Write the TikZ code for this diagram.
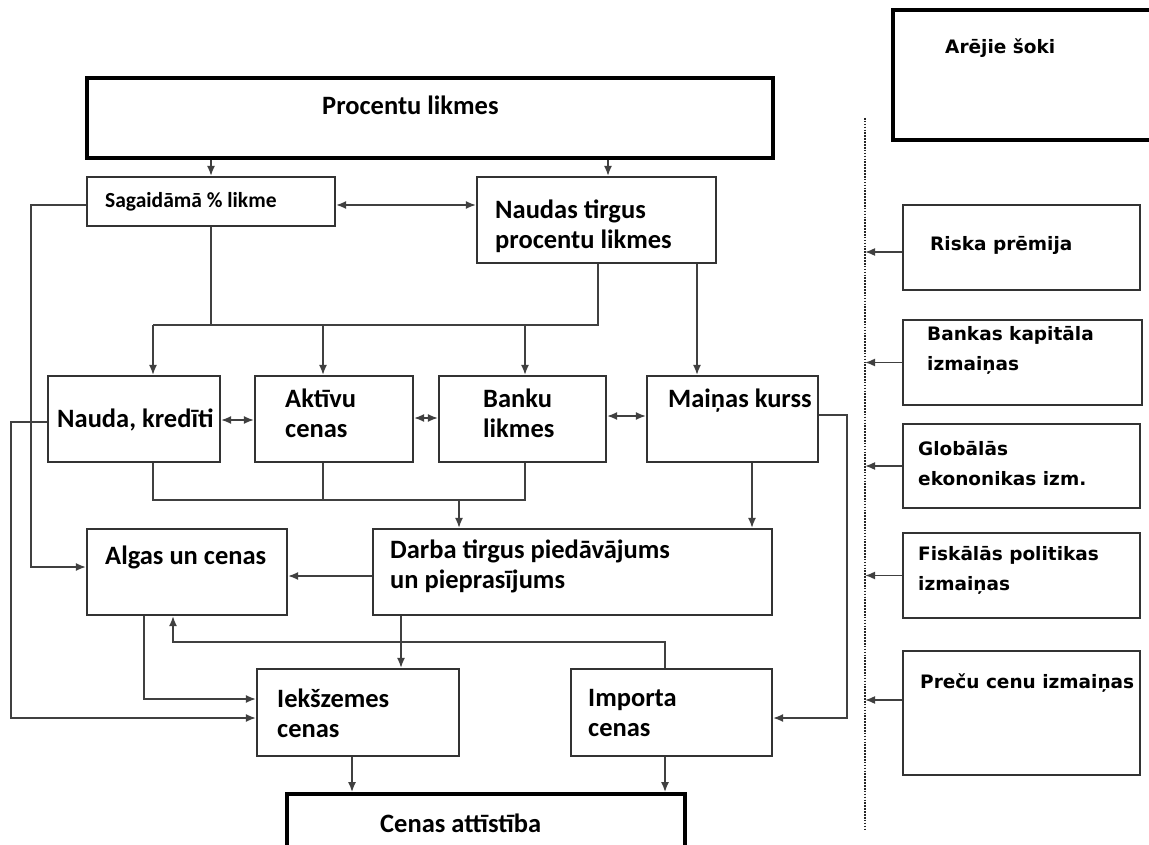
\documentclass[tikz,border=0pt]{standalone}
\usepackage{fontspec}
\setmainfont{Carlito}
\newfontfamily\rfont{DejaVu Sans}
\usetikzlibrary{arrows.meta,fit}
\tikzset{
  box/.style={draw=black!80, line width=2.2pt, rectangle, inner sep=0pt},
  thickbox/.style={draw=black, line width=3.8pt, rectangle, inner sep=0pt},
  conn/.style={draw=black!75, line width=1.6pt},
  arr/.style={conn, -{Latex[length=10pt,width=8pt]}},
  darr/.style={conn, {Latex[length=10pt,width=8pt]}-{Latex[length=10pt,width=8pt]}},
  lt/.style={inner sep=0pt, align=left, anchor=west, font=\fontsize{26.5}{30}\selectfont\bfseries},
  st/.style={inner sep=0pt, align=left, anchor=west, font=\fontsize{21.5}{24}\selectfont\bfseries},
  rt/.style={inner sep=0pt, align=left, anchor=west, font=\rfont\fontsize{18.5}{30}\selectfont\bfseries},
}
\begin{document}
\begin{tikzpicture}[x=1pt,y=-1pt]
\useasboundingbox (0,0) rectangle (1149,845);
% boxes
\node[thickbox, fit={(87,78) (773,158)}] (proc) {};
\node[box, fit={(87,177) (335,226)}] (sag) {};
\node[box, fit={(477,177) (716,263)}] (naud) {};
\node[box, fit={(48,376) (220,462)}] (nauda) {};
\node[box, fit={(255,376) (413,462)}] (akt) {};
\node[box, fit={(439,376) (606,462)}] (bank) {};
\node[box, fit={(647,376) (818,462)}] (mk) {};
\node[box, fit={(87,529) (287,615)}] (alg) {};
\node[box, fit={(373,529) (772,615)}] (darba) {};
\node[box, fit={(257,669) (459,756)}] (iek) {};
\node[box, fit={(571,669) (772,756)}] (imp) {};
\node[thickbox, fit={(287,794) (685,852)}] (cen) {};
\node[thickbox, fit={(893,10) (1160,140)}] (arej) {};
\node[box, fit={(903,205) (1140,290)}] (risk) {};
\node[box, fit={(903,320) (1142,405)}] (bkap) {};
\node[box, fit={(903,424) (1140,508)}] (glob) {};
\node[box, fit={(903,533) (1140,618)}] (fisk) {};
\node[box, fit={(903,651) (1140,775)}] (prec) {};
% texts
\node[lt] (tproc) at (322,105) {Procentu likmes};
\node[st] (tsag) at (105,202) {Sagaidāmā \% likme};
\node[lt] (tnaud) at (495,226) {Naudas tirgus\\procentu likmes};
\node[lt] (tnauda) at (57,420) {Nauda, kredīti};
\node[lt] (takt) at (285,413) {Aktīvu\\cenas};
\node[lt] (tbank) at (483,413) {Banku\\likmes};
\node[lt] (tmk) at (668,401) {Maiņas kurss};
\node[lt] (talg) at (105,557) {Algas un cenas};
\node[lt] (tdarba) at (390,566) {Darba tirgus piedāvājums\\un pieprasījums};
\node[lt] (tiek) at (277,713) {Iekšzemes\\cenas};
\node[lt] (timp) at (588,713) {Importa\\cenas};
\node[lt] (tcen) at (380,823) {Cenas attīstība};
\node[rt] (tarej) at (945,48) {Arējie šoki};
\node[rt] (trisk) at (930,245) {Riska prēmija};
\node[rt] (tbkap) at (927,350) {Bankas kapitāla\\izmaiņas};
\node[rt] (tglob) at (918,464) {Globālās\\ekononikas izm.};
\node[rt] (tfisk) at (918,570) {Fiskālās politikas\\izmaiņas};
\node[rt] (tprec) at (920,683) {Preču cenu izmaiņas};
% helper coordinates
\coordinate (busA) at (153,325);
\coordinate (busB) at (598,325);
\coordinate (busC) at (153,500);
\coordinate (busD) at (525,500);
\coordinate (dtop) at (865,118);
\coordinate (dbot) at (865,830);
% connectors top
\draw[arr] (proc.south -| 211,0) -- (sag.north -| 211,0);
\draw[arr] (proc.south -| 608,0) -- (naud.north -| 608,0);
\draw[darr] (sag.east |- 0,205) -- (naud.west |- 0,205);
\draw[arr] (sag.west |- 0,205) -- (31,205) -- (31,567) -- (alg.west |- 0,567);
\draw[conn] (sag.south -| 211,0) -- (211,325);
\draw[conn] (naud.south -| busB) -- (busB) -- (busA);
\draw[arr] (busA) -- (nauda.north -| busA);
\draw[arr] (323,325) -- (akt.north -| 323,0);
\draw[arr] (525,325) -- (bank.north -| 525,0);
\draw[arr] (naud.south -| 697,0) -- (mk.north -| 697,0);
% middle row
\draw[darr] (nauda.east |- 0,420) -- (akt.west |- 0,420);
\draw[darr] (akt.east |- 0,418) -- (bank.west |- 0,418);
\draw[darr] (bank.east |- 0,416) -- (mk.west |- 0,416);
\draw[arr] (nauda.west |- 0,422) -- (11,422) -- (11,718) -- (iek.west |- 0,718);
\draw[conn] (nauda.south -| busC) -- (busC) -- (busD) -- (bank.south -| busD);
\draw[conn] (akt.south -| 323,0) -- (323,500);
\draw[arr] (459,500) -- (darba.north -| 459,0);
\draw[arr] (mk.south -| 752,0) -- (darba.north -| 752,0);
\draw[arr] (mk.east |- 0,415) -- (847,415) -- (847,718) -- (imp.east |- 0,718);
% lower
\draw[arr] (darba.west |- 0,576) -- (alg.east |- 0,576);
\draw[arr] (darba.south -| 401,0) -- (iek.north -| 401,0);
\draw[arr] (alg.south -| 144,0) -- (144,699) -- (iek.west |- 0,699);
\draw[arr] (imp.north -| 665,0) -- (665,642) -- (173,642) -- (alg.south -| 173,0);
\draw[arr] (iek.south -| 352,0) -- (cen.north -| 352,0);
\draw[arr] (imp.south -| 665,0) -- (cen.north -| 665,0);
% right side
\draw[black!85, line width=2.4pt, dash pattern=on 1.6pt off 1.3pt] (dtop) -- (dbot);
\draw[arr] (risk.west |- 0,252) -- (dtop |- 0,252);
\draw[arr] (bkap.west) -- (bkap.west -| dtop);
\draw[arr] (glob.west) -- (glob.west -| dtop);
\draw[arr] (fisk.west) -- (fisk.west -| dtop);
\draw[arr] (prec.west |- 0,700) -- (dtop |- 0,700);
\end{tikzpicture}
\end{document}
